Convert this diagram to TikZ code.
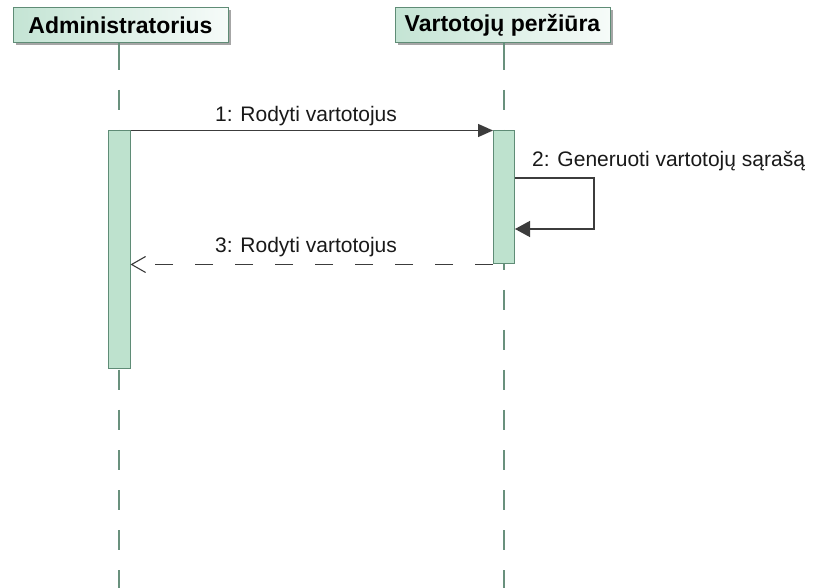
\documentclass[tikz,border=0pt]{standalone}
\usepackage{fontspec}
\setmainfont{Liberation Sans}
\usetikzlibrary{shadows,arrows.meta}
\definecolor{barfill}{RGB}{190,226,206}
\definecolor{edgecol}{RGB}{95,140,118}
\definecolor{lifecol}{RGB}{105,145,125}
\definecolor{headl}{RGB}{196,228,212}
\definecolor{headr}{RGB}{246,251,249}
\definecolor{msgcol}{RGB}{60,60,60}
\begin{document}
\begin{tikzpicture}[x=1pt,y=-1pt,
  header/.style={draw=edgecol, line width=1pt, left color=headl, right color=headr,
    minimum width=215pt, minimum height=35pt, inner sep=0pt,
    font=\fontsize{23}{23}\selectfont\bfseries,
    drop shadow={shadow xshift=3pt, shadow yshift=-3pt, fill=black!35, opacity=1}},
  lifesolid/.style={draw=lifecol, line width=1.5pt},
  lifeline/.style={lifesolid, dash pattern=on 20pt off 20pt},
  actbar/.style={draw=edgecol, fill=barfill, line width=1pt, inner sep=0pt},
  msg/.style={draw=msgcol, line width=1.4pt},
  lbl/.style={anchor=base west, inner sep=0pt, text=black!90,
    font=\fontsize{21}{21}\selectfont}
]
\useasboundingbox[fill=white] (0,0) rectangle (823,588);

% participants
\node[header] (admin) at (120.5,25) {Administratorius};
\node[header] (view) at (502.5,25) {Vartotojų peržiūra};

% lifelines
\coordinate (adminend) at (119,588);
\coordinate (viewend) at (504,588);
\coordinate (admintop) at (119,50);
\coordinate (viewtop) at (504,50);
\draw[lifesolid] (admin.south -| admintop) -- (admintop);
\draw[lifeline] (admintop) -- (adminend);
\draw[lifesolid] (view.south -| viewtop) -- (viewtop);
\draw[lifeline] (viewtop) -- (viewend);

% activation bars
\node[actbar, minimum width=22pt, minimum height=238pt] (abar) at (119,250) {};
\node[actbar, minimum width=21pt, minimum height=133pt] (vbar) at (504,197.5) {};

% 1: call
\draw[msg, -{Triangle[length=15pt,width=13pt]}] (abar.north east) -- (vbar.north west);
\node[lbl] (l1) at (215,122) {1: Rodyti vartotojus};

% 2: self call
\coordinate (s2a) at (594,178);
\coordinate (s2b) at (594,229);
\draw[msg, -{Triangle[length=15pt,width=16pt]}]
  (vbar.east |- s2a) -- (s2a) -- (s2b) -- (vbar.east |- s2b);
\node[lbl] (l2) at (532,167) {2: Generuoti vartotojų sąrašą};

% 3: reply
\draw[msg, line width=1.1pt, dash pattern=on 18pt off 22pt,
  -{Straight Barb[length=14pt,width=16pt]}]
  (vbar.south west) -- (abar.east |- vbar.south);
\node[lbl] (l3) at (215,253) {3: Rodyti vartotojus};
\end{tikzpicture}
\end{document}
